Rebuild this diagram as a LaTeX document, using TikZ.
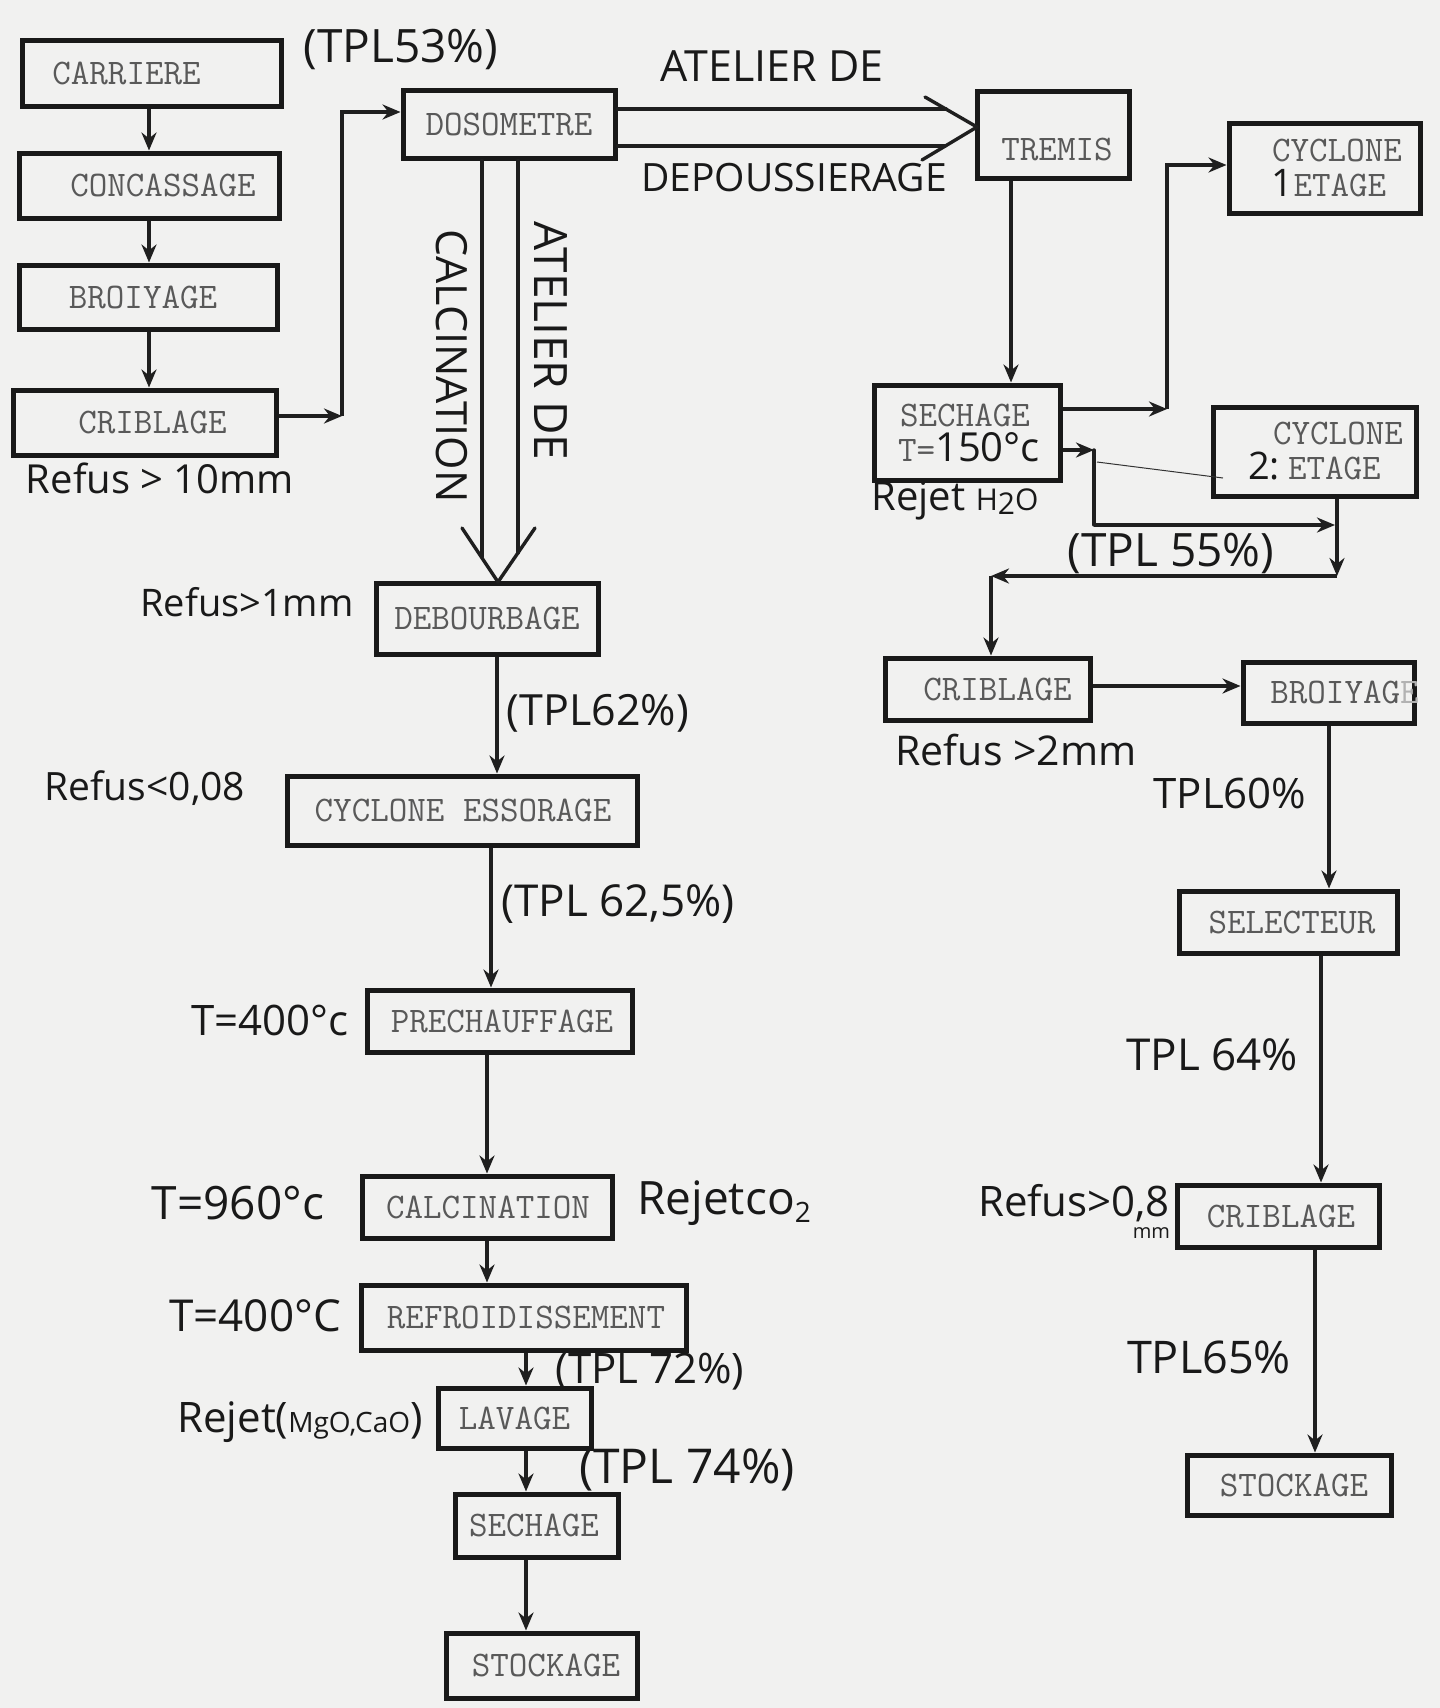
\documentclass[tikz,border=0pt]{standalone}
\usepackage{fontspec}
\usetikzlibrary{arrows.meta,calc}
\newfontfamily\hwf{Open Sans}
\newcommand{\hs}[1]{\hwf\fontsize{#1}{#1}\selectfont}
\newcommand{\tws}{\ttfamily\fontsize{36}{35}\selectfont}
\newcommand{\bx}[3]{\raisebox{#2}[\height][\depth]{\makebox[0pt]{\hspace*{#1}#3}}}
\definecolor{paper}{RGB}{241,241,240}
\begin{document}
\begin{tikzpicture}[x=1pt,y=-1pt,
  box/.style={draw=black!90, line width=5pt, inner sep=0pt, font=\tws, text=black!65, align=center},
  arr/.style={line width=3.4pt, draw=black!88, -{Stealth[length=18pt,width=15pt]}},
  ln/.style={line width=3.4pt, draw=black!88, line join=round, line cap=round},
  hand/.style={inner sep=0pt, text=black!90},
]
\fill[paper] (0,0) rectangle (1440,1708);
\useasboundingbox (0,0) rectangle (1440,1708);

% ---------- boxes ----------
\node[box, minimum width=259pt, minimum height=66pt] (carriere) at (151.5,73) {\bx{-50pt}{0pt}{CARRIERE}};
\node[box, minimum width=260pt, minimum height=65pt] (concassage) at (149,185.5) {\bx{28pt}{0pt}{CONCASSAGE}};
\node[box, minimum width=258pt, minimum height=64pt] (broiyage) at (148,297) {\bx{-10pt}{0pt}{BROIYAGE}};
\node[box, minimum width=263pt, minimum height=65pt] (criblage1) at (144.5,422.5) {\bx{16pt}{0pt}{CRIBLAGE}};
\node[box, minimum width=212pt, minimum height=68pt] (dosometre) at (509,124) {\bx{0pt}{0pt}{DOSOMETRE}};
\node[box, minimum width=152pt, minimum height=87pt] (tremis) at (1053,134.5) {\bx{8pt}{-15pt}{TREMIS}};
\node[box, minimum width=191pt, minimum height=90pt] (cyclone1) at (1324.5,168) {\bx{25pt}{0pt}{CYCLONE}\\\bx{9pt}{0pt}{{\hs{38}\color{black!90}1}ETAGE}};
\node[box, minimum width=186pt, minimum height=95pt] (sechage1) at (967,432.5) {\bx{-4pt}{0pt}{SECHAGE}\\\bx{4pt}{0pt}{T={\hs{40}\color{black!90}150°c}}};
\node[box, minimum width=203pt, minimum height=89pt] (cyclone2) at (1314.5,451.5) {\bx{47pt}{0pt}{CYCLONE}\\\bx{0pt}{0pt}{{\hs{38}\color{black!90}2:}\hspace{8pt}ETAGE}};
\node[box, minimum width=205pt, minimum height=62pt] (criblage2) at (987.5,689) {\bx{20pt}{0pt}{CRIBLAGE}};
\node[box, minimum width=171pt, minimum height=61pt] (broiyage2) at (1328.5,692.5) {\bx{32pt}{0pt}{BROIYAG{\color{black!30}E}}};
\node[box, minimum width=218pt, minimum height=62pt] (selecteur) at (1288,922) {\bx{8pt}{0pt}{SELECTEUR}};
\node[box, minimum width=202pt, minimum height=62pt] (criblage3) at (1278,1216) {\bx{6pt}{0pt}{CRIBLAGE}};
\node[box, minimum width=204pt, minimum height=60pt] (stockage2) at (1289,1485) {\bx{10pt}{0pt}{STOCKAGE}};
\node[box, minimum width=222pt, minimum height=71pt] (debourbage) at (487,618.5) {\bx{0pt}{0pt}{DEBOURBAGE}};
\node[box, minimum width=350pt, minimum height=69pt] (cycess) at (462,810.5) {\bx{2pt}{0pt}{CYCLONE ESSORAGE}};
\node[box, minimum width=265pt, minimum height=62pt] (prech) at (499.5,1021) {\bx{5pt}{0pt}{PRECHAUFFAGE}};
\node[box, minimum width=250pt, minimum height=62pt] (calc) at (487,1207) {\bx{2pt}{0pt}{CALCINATION}};
\node[box, minimum width=325pt, minimum height=65pt] (refroid) at (523.5,1317.5) {\bx{5pt}{0pt}{REFROIDISSEMENT}};
\node[box, minimum width=153pt, minimum height=60pt] (lavage) at (514.5,1418) {\bx{0pt}{0pt}{LAVAGE}};
\node[box, minimum width=163pt, minimum height=63pt] (sechage2) at (536.5,1525.5) {\bx{-5pt}{0pt}{SECHAGE}};
\node[box, minimum width=191pt, minimum height=65pt] (stockage1) at (541.5,1665.5) {\bx{9pt}{0pt}{STOCKAGE}};

% ---------- left chain ----------
\coordinate (xL) at (149,0);
\draw[arr] (carriere.south -| xL) -- (concassage.north -| xL);
\draw[arr] (concassage.south -| xL) -- (broiyage.north -| xL);
\draw[arr] (broiyage.south -| xL) -- (criblage1.north -| xL);
\coordinate (c1) at (342,416);
\coordinate (c2) at (342,112);
\draw[arr] (criblage1.east |- c1) -- (c1);
\draw[arr] (c1) -- (c2) -- (dosometre.west |- c2);

% ---------- double arrow to TREMIS ----------
\coordinate (dA) at (946,109);
\coordinate (dB) at (945,146);
\coordinate (tipR) at (977,127);
\coordinate (cwA) at (925,97);
\coordinate (cwB) at (922,160);
\draw[ln] (dosometre.east |- dA) -- (dA);
\draw[ln] (dosometre.east |- dB) -- (dB);
\draw[ln] (cwA) -- (tipR) -- (cwB);

% ---------- double arrow to DEBOURBAGE ----------
\coordinate (vA) at (482,557);
\coordinate (vB) at (518,553);
\coordinate (tipD) at (498,582);
\coordinate (vwA) at (462,528);
\coordinate (vwB) at (535,528);
\draw[ln] (dosometre.south -| vA) -- (vA);
\draw[ln] (dosometre.south -| vB) -- (vB);
\draw[ln] (vwA) -- (tipD) -- (vwB);

% ---------- centre chain ----------
\coordinate (x1) at (497,0);
\coordinate (x2) at (491,0);
\coordinate (x3) at (487,0);
\coordinate (x4) at (526,0);
\draw[arr] (debourbage.south -| x1) -- (cycess.north -| x1);
\draw[arr] (cycess.south -| x2) -- (prech.north -| x2);
\draw[arr] (prech.south -| x3) -- (calc.north -| x3);
\draw[arr] (calc.south -| x3) -- (refroid.north -| x3);
\draw[arr] (refroid.south -| x4) -- (lavage.north -| x4);
\draw[arr] (lavage.south -| x4) -- (sechage2.north -| x4);
\draw[arr] (sechage2.south -| x4) -- (stockage1.north -| x4);

% ---------- right part ----------
\coordinate (xT) at (1011,0);
\draw[arr] (tremis.south -| xT) -- (sechage1.north -| xT);
\coordinate (u1) at (1167,409);
\coordinate (u2) at (1167,165);
\draw[arr] (sechage1.east |- u1) -- (u1);
\draw[arr] (u1) -- (u2) -- (cyclone1.west |- u2);
\coordinate (s1) at (1094,450);
\coordinate (s2) at (1094,525);
\coordinate (s3) at (1335,525);
\draw[arr] (sechage1.east |- s1) -- (s1);
\draw[ln] (s1) -- (s2);
\draw[arr] (s2) -- (s3);
\coordinate (t1) at (1097,462);
\coordinate (t2) at (1223,478);
\draw[black!80, line width=1pt] (t1) -- (t2);
\coordinate (j) at (1337,576);
\coordinate (k) at (991,576);
\draw[arr] (cyclone2.south -| j) -- (j);
\draw[arr] (j) -- (k);
\draw[arr] (k) -- (criblage2.north -| k);
\coordinate (yC) at (0,686);
\draw[arr] (criblage2.east |- yC) -- (broiyage2.west |- yC);
\coordinate (xB1) at (1329,0);
\coordinate (xB2) at (1321,0);
\coordinate (xB3) at (1315,0);
\draw[arr] (broiyage2.south -| xB1) -- (selecteur.north -| xB1);
\draw[arr] (selecteur.south -| xB2) -- (criblage3.north -| xB2);
\draw[arr] (criblage3.south -| xB3) -- (stockage2.north -| xB3);

% ---------- handwritten labels ----------
\node[hand, font=\hs{46}] (ltpl53) at (401,49) {(TPL53\%)};
\node[hand, font=\hs{43}] (latel1) at (772,66) {ATELIER DE};
\node[hand, font=\hs{39}] (ldepou) at (794,178) {DEPOUSSIERAGE};
\node[hand, font=\hs{40}] (lref10) at (160,478) {Refus > 10mm};
\node[hand, font=\hs{46}, rotate=-90] (latel2) at (551,341) {ATELIER DE};
\node[hand, font=\hs{43}, rotate=-90] (lcalc) at (452,366) {CALCINATION};
\node[hand, font=\hs{38}] (lref1) at (247,602) {Refus>1mm};
\node[hand, font=\hs{43}] (ltpl62) at (598,713) {(TPL62\%)};
\node[hand, font=\hs{39}] (lref008) at (145,788) {Refus<0,08};
\node[hand, font=\hs{44}] (ltpl625) at (618,904) {(TPL 62,5\%)};
\node[hand, font=\hs{42}] (lt400a) at (270,1020) {T=400°c};
\node[hand, font=\hs{46}] (lt960) at (238,1203) {T=960°c};
\node[hand, font=\hs{46}] (lco2) at (724,1203) {Rejetco{\fontsize{28}{28}\selectfont\raisebox{-8pt}{2}}};
\node[hand, font=\hs{44}] (lt400b) at (255,1316) {T=400°C};
\node[hand, font=\hs{42}] (ltpl72) at (650,1372) {(TPL 72\%)};
\node[hand, font=\hs{42}] (lmgo) at (300,1422) {Rejet({\fontsize{28}{28}\selectfont MgO,CaO})};
\node[hand, font=\hs{48}] (ltpl74) at (687,1470) {(TPL 74\%)};
\node[hand, font=\hs{40}] (lh2o) at (955,501) {Rejet {\fontsize{30}{30}\selectfont H\raisebox{-4pt}{2}O}};
\node[hand, font=\hs{46}] (ltpl55) at (1171,553) {(TPL 55\%)};
\node[hand, font=\hs{41}] (lref2) at (1016,750) {Refus >2mm};
\node[hand, font=\hs{42}] (ltpl60) at (1230,793) {TPL60\%};
\node[hand, font=\hs{44}] (ltpl64) at (1212,1055) {TPL 64\%};
\node[hand, font=\hs{42}] (lref08) at (1074,1203) {Refus>0,8\makebox[0pt][r]{\raisebox{-22pt}[0pt][0pt]{\fontsize{20}{20}\selectfont mm}}};
\node[hand, font=\hs{45}] (ltpl65) at (1209,1357) {TPL65\%};
\end{tikzpicture}
\end{document}
